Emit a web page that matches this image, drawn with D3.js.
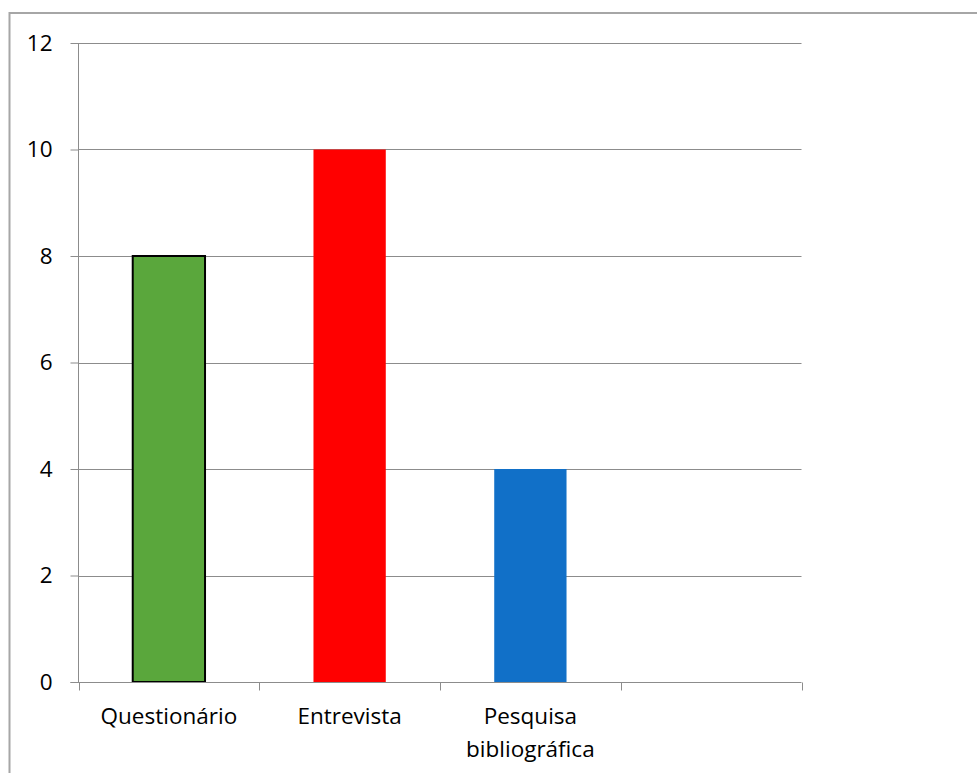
<!DOCTYPE html>
<html>
<head>
<meta charset="utf-8">
<script src="https://cdn.jsdelivr.net/npm/d3@7"></script>
<style>
  html, body { margin: 0; padding: 0; background: #fff; }
  svg { display: block; }
  text { font-family: "Open Sans", sans-serif; fill: #000; }
</style>
</head>
<body>
<svg id="chart" width="977" height="773"></svg>
<script>
// Categories (last slot is left empty) and their values
const categories = ["Questionário", "Entrevista", "Pesquisa bibliográfica", ""];
const values = [8, 10, 4, null];
const barColors = ["#5aa73c", "#ff0000", "#1170c8", "#ffffff"];
const barStrokes = ["#000000", "none", "none", "none"];
const yTicks = [0, 2, 4, 6, 8, 10, 12];
// Category labels broken into lines
const labelLines = [["Questionário"], ["Entrevista"], ["Pesquisa", "bibliográfica"], []];

const fontSize = "22.5px";
const svg = d3.select("#chart");
const plot = { left: 78.5, right: 801.5, top: 43, bottom: 682 };

// Outer chart frame
svg.append("rect")
  .attr("x", 9.5).attr("y", 13)
  .attr("width", 1000).attr("height", 800)
  .attr("fill", "none")
  .attr("stroke", "#a6a6a6")
  .attr("stroke-width", 2);

const x = d3.scaleBand()
  .domain(d3.range(categories.length))
  .range([plot.left, plot.right])
  .paddingInner(0).paddingOuter(0);

const y = d3.scaleLinear()
  .domain([0, 12])
  .range([plot.bottom, plot.top]);

// Horizontal gridlines
svg.append("g")
  .selectAll("line")
  .data(yTicks.filter(d => d > 0))
  .join("line")
  .attr("x1", plot.left).attr("x2", plot.right)
  .attr("y1", d => Math.round(y(d)) + 0.5)
  .attr("y2", d => Math.round(y(d)) + 0.5)
  .attr("stroke", "#8c8c8c")
  .attr("stroke-width", 1);

// Bars
const barW = x.bandwidth() * 0.4;
svg.append("g")
  .selectAll("rect")
  .data(values.map((v, i) => ({ v, i })).filter(d => d.v !== null))
  .join("rect")
  .attr("x", d => x(d.i) + (x.bandwidth() - barW) / 2)
  .attr("y", d => y(d.v))
  .attr("width", barW)
  .attr("height", d => y(0) - y(d.v))
  .attr("fill", d => barColors[d.i])
  .attr("stroke", d => barStrokes[d.i])
  .attr("stroke-width", 2);

// Y axis
const yAxis = svg.append("g")
  .attr("transform", `translate(${plot.left},0)`)
  .call(d3.axisLeft(y).tickValues(yTicks).tickFormat(d3.format("d")).tickSize(8).tickPadding(18));
yAxis.selectAll("line").attr("stroke", "#8c8c8c");
yAxis.select(".domain").attr("stroke", "#8c8c8c").attr("d", `M0,${plot.top}V${plot.bottom}`);
yAxis.selectAll("text")
  .style("font-family", "'Open Sans', sans-serif")
  .style("font-size", fontSize)
  .attr("fill", "#000");

// X axis with ticks at category boundaries
const xAxis = svg.append("g").attr("transform", `translate(0,${Math.round(plot.bottom) + 0.5})`);
xAxis.append("line")
  .attr("x1", plot.left - 8).attr("x2", plot.right)
  .attr("stroke", "#8c8c8c");
const bounds = d3.range(categories.length + 1).map(i => plot.left + i * x.bandwidth());
xAxis.selectAll("line.tick")
  .data(bounds)
  .join("line")
  .attr("class", "tick")
  .attr("x1", d => Math.round(d) + 0.5).attr("x2", d => Math.round(d) + 0.5)
  .attr("y1", 0).attr("y2", 8)
  .attr("stroke", "#8c8c8c");

// Category labels
const lab = svg.append("g");
labelLines.forEach((lines, i) => {
  lines.forEach((t, j) => {
    lab.append("text")
      .attr("x", x(i) + x.bandwidth() / 2)
      .attr("y", 724 + j * 33)
      .attr("text-anchor", "middle")
      .style("font-size", fontSize)
      .text(t);
  });
});
</script>
</body>
</html>
